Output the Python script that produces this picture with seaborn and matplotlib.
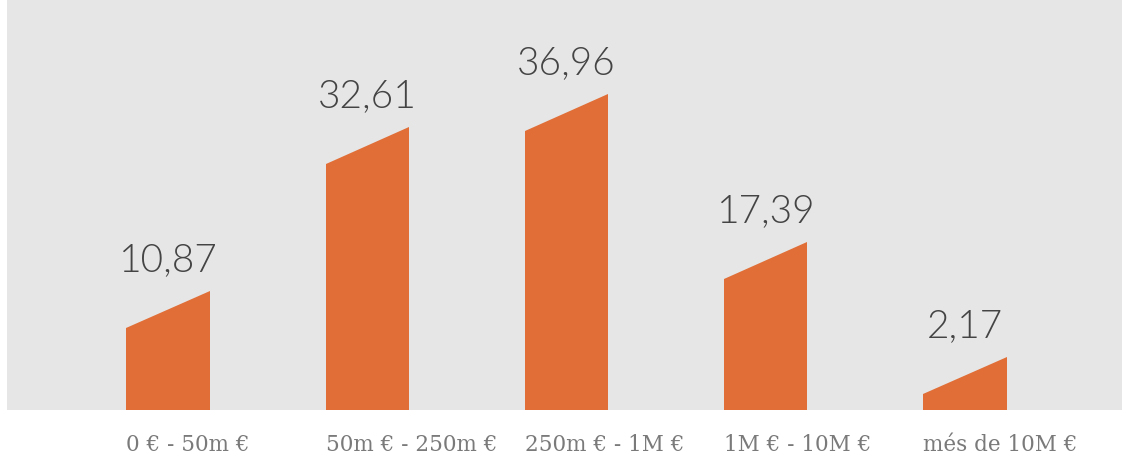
import matplotlib
matplotlib.use('Agg')
import matplotlib.pyplot as plt
from matplotlib.patches import Polygon
import seaborn as sns
import pandas as pd

# --- data ---
categories = ['0 € - 50m €', '50m € - 250m €', '250m € - 1M €', '1M € - 10M €', 'més de 10M €']
values = [10.87, 32.61, 36.96, 17.39, 2.17]
value_labels = ['10,87', '32,61', '36,96', '17,39', '2,17']

BAR_COLOR = '#e06e36'
BG_COLOR = '#e6e6e6'
BAR_W = 0.417
SLANT = 4.9  # extra height of the slanted top (data units)

df = pd.DataFrame({'cat': categories, 'val': values})

sns.set_style('white')
plt.rcParams['font.family'] = ['Lato', 'DejaVu Sans']

fig = plt.figure(figsize=(11.22, 4.54), dpi=100)
ax = fig.add_axes([7 / 1122, 44 / 454, 1115 / 1122, 410 / 454])
ax.set_facecolor(BG_COLOR)

sns.barplot(data=df, x='cat', y='val', color=BAR_COLOR, width=BAR_W,
            saturation=1, ax=ax, linewidth=0)

# slanted tops + value labels
for patch, lab in zip(ax.patches, value_labels):
    x0 = patch.get_x()
    x1 = x0 + patch.get_width()
    h = patch.get_height()
    ax.add_patch(Polygon([(x0, h), (x1, h), (x1, h + SLANT)], closed=True,
                         facecolor=BAR_COLOR, edgecolor='none'))
    ax.text((x0 + x1) / 2, h + SLANT + 1.7, lab, ha='center', va='bottom',
            fontsize=28, fontweight=300, color='#444444')

# category labels sit left-aligned under each bar
ax.set_xticks([i - BAR_W / 2 for i in range(len(categories))])
ax.set_xticklabels(categories, ha='left', fontfamily='DejaVu Serif',
                   fontsize=15.5, color='#7a7a7a')

ax.set_xlim(-0.808, 4.788)
ax.set_ylim(0, 54.3)
ax.set_yticks([])
ax.set_xlabel('')
ax.set_ylabel('')
ax.tick_params(axis='x', length=0, pad=17)
for s in ax.spines.values():
    s.set_visible(False)

fig.savefig('out.png', dpi=100)
